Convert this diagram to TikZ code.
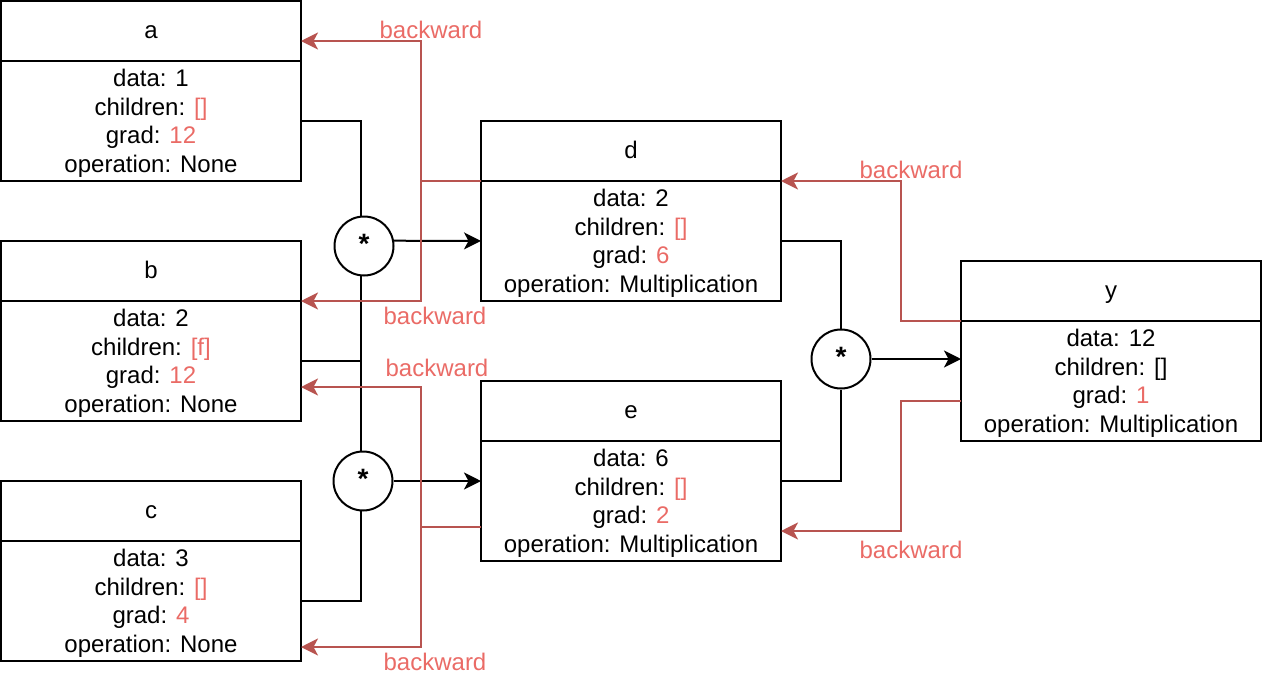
\documentclass[tikz,border=0pt]{standalone}
\usepackage{fontspec}
\setmainfont{Liberation Sans}
\usetikzlibrary{arrows.meta,calc}
\definecolor{bkline}{HTML}{B85450}
\definecolor{bktext}{HTML}{EA6B66}
\newcommand\redtxt[1]{\textcolor{bktext}{#1}}
\newcommand\firststrut{\rule{0pt}{21.5pt}}
\begin{document}
\begin{tikzpicture}[x=1pt,y=-1pt,
  every node/.style={font=\fontsize{24}{28.5}\selectfont},
  hdr/.style={draw, line width=2pt, minimum width=300pt, minimum height=60pt, inner sep=0pt, outer sep=0pt, text height=15pt, text depth=0pt},
  bodybox/.style={draw, line width=2pt, minimum width=300pt, minimum height=120pt, inner sep=0pt, outer sep=0pt, align=center},
  opnode/.style={circle, draw, line width=2pt, minimum size=59pt, inner sep=0pt, font=\bfseries\fontsize{28}{30}\selectfont, text height=15pt, text depth=0pt},
  link/.style={line width=2pt, draw=black},
  arr/.style={link, -{Stealth[length=17pt,width=17pt,inset=4.5pt]}},
  bk/.style={line width=2pt, draw=bkline, -{Stealth[length=17pt,width=17pt,inset=4.5pt]}},
  bwlabel/.style={text=bktext, inner sep=0pt}]
\useasboundingbox (0,0) rectangle (1262,694);
% boxes
\node[hdr] (ah) at (151,31) {a};
\node[bodybox] (ab) at (151,121) {\firststrut data: 1\\children: \redtxt{[]}\\grad: \redtxt{12}\\operation: None};
\node[hdr] (bh) at (151,271) {b};
\node[bodybox] (bb) at (151,361) {\firststrut data: 2\\children: \redtxt{[f]}\\grad: \redtxt{12}\\operation: None};
\node[hdr] (ch) at (151,511) {c};
\node[bodybox] (cb) at (151,601) {\firststrut data: 3\\children: \redtxt{[]}\\grad: \redtxt{4}\\operation: None};
\node[hdr] (dh) at (631,151) {d};
\node[bodybox] (db) at (631,241) {\firststrut data: 2\\children: \redtxt{[]}\\grad: \redtxt{6}\\operation: Multiplication};
\node[hdr] (eh) at (631,411) {e};
\node[bodybox] (eb) at (631,501) {\firststrut data: 6\\children: \redtxt{[]}\\grad: \redtxt{2}\\operation: Multiplication};
\node[hdr] (yh) at (1111,291) {y};
\node[bodybox] (yb) at (1111,381) {\firststrut data: 12\\children: []\\grad: \redtxt{1}\\operation: Multiplication};
% operation circles
\node[opnode] (m1) at (364,246) {*};
\node[opnode] (m2) at (363,481) {*};
\node[opnode] (m3) at (841,359) {*};
% forward connectors
\draw[link] (ab.east) -| (m1.96);
\draw[link] (bb.east) -| (m1.264);
\draw[link] (bb.east) -| (m2.94);
\draw[link] (cb.east) -| (m2.266);
\draw[arr] (m1.10) -- (db.west);
\draw[arr] (m2.east) -- (eb.west |- m2.east);
\draw[link] (db.east) -| (m3.north);
\draw[link] ([yshift=20pt]eb.east) -| (m3.south);
\draw[arr] (m3.east) -- (yb.west |- m3.east);
% backward connectors
\coordinate (r1) at ([xshift=-60pt]dh.south west);
\coordinate (r2) at ([xshift=-60pt,yshift=-26pt]eb.west);
\coordinate (r3) at ([xshift=-60pt]yh.south west);
\coordinate (r4) at ([xshift=-60pt,yshift=-20pt]yb.west);
\draw[bk] (dh.south west) -- (r1) |- ([yshift=-10pt]ah.east);
\draw[bk] (dh.south west) -- (r1) |- (bh.south east);
\draw[bk] ([yshift=-26pt]eb.west) -- (r2) |- ([yshift=-26pt]bb.east);
\draw[bk] ([yshift=-26pt]eb.west) -- (r2) |- ([yshift=-46pt]cb.east);
\draw[bk] (yh.south west) -- (r3) |- (dh.south east);
\draw[bk] ([yshift=-20pt]yb.west) -- (r4) |- ([yshift=-30pt]eb.east);
% labels
\node[bwlabel] (l1) at (431,30) {backward};
\node[bwlabel] (l2) at (435,316) {backward};
\node[bwlabel] (l3) at (437,368) {backward};
\node[bwlabel] (l4) at (435,662) {backward};
\node[bwlabel] (l5) at (911,170) {backward};
\node[bwlabel] (l6) at (911,550) {backward};
\end{tikzpicture}
\end{document}
